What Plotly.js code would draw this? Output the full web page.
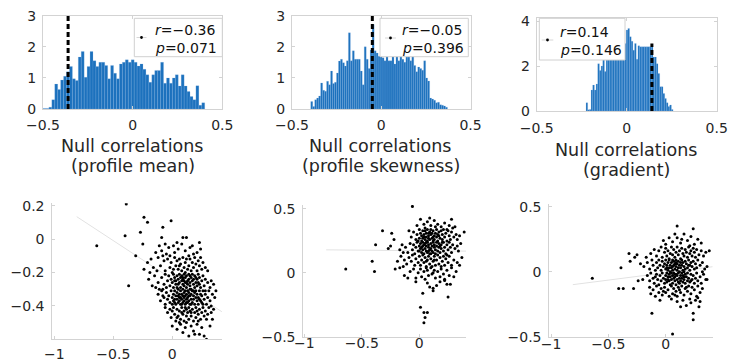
<!DOCTYPE html>
<html><head><meta charset="utf-8">
<script src="https://cdn.plot.ly/plotly-3.0.1.min.js"></script>
<style>html,body{margin:0;padding:0;background:#fff;}#chart{width:729px;height:363px;}</style>
</head><body><div id="chart"></div>
<script>
// ---------- DATA ----------
const panelTitles = ["(profile mean)", "(profile skewness)", "(gradient)"];
const xTitle = "Null correlations";
const rValues = [-0.36, -0.05, 0.14];
const pValues = ["0.071", "0.396", "0.146"];
const rLabels = ["\u22120.36", "\u22120.05", "0.14"];
const dashTop = 3;

// histogram bins (equal width) and density heights
const hist1Start = -0.5, hist1Width = 0.0164;
const hist1Heights = [0.02,0.02,0.06,0.3,0.8,0.63,0.93,1.05,1.2,1.37,0.97,0.92,1.67,1.85,1.02,1.37,1.85,1.55,1.37,1.5,1.5,1.4,0.97,1.4,1.15,0.97,1.45,1.5,1.58,1.5,1.58,1.5,1.38,1.45,1.28,1.1,0.86,1.1,1.24,1.24,1.5,0.83,1.0,0.83,1.0,1.1,0.74,1.1,0.74,0.56,0.4,0.3,0.75,0.12,0.2];
const hist2Start = -0.395, hist2Width = 0.0111;
const hist2Heights = [0.24,0.08,0.30,0.35,0.42,0.84,0.60,0.57,0.89,0.78,1.22,0.82,0.86,1.16,1.54,1.60,1.49,1.38,1.55,2.45,1.55,1.87,1.6,1.6,1.6,1.22,0.78,2.0,1.6,1.3,1.9,2.72,1.87,1.8,1.7,1.7,1.65,1.55,1.75,1.55,1.55,1.7,1.45,1.75,1.55,1.75,1.6,1.5,1.7,1.75,1.55,1.75,1.4,1.2,1.35,1.3,1.25,1.55,1.0,0.9,0.35,0.32,0.28,0.2,0.22,0.14,0.12,0.1,0.06];
const hist3Start = -0.226, hist3Width = 0.0093;
const hist3Heights = [0.37,0.05,0.07,0.93,1.15,0.93,1.2,2.1,1.8,2.0,2.4,1.75,2.6,2.9,3.1,2.7,3.3,2.9,3.4,3.0,3.5,3.2,4.05,3.0,3.6,3.67,3.3,3.1,2.7,3.0,2.3,2.9,2.85,2.85,2.85,2.85,2.85,2.85,2.85,2.85,2.4,2.4,2.1,1.67,1.08,1.08,0.78,0.56,0.37,0.2,0.27,0.07];

// fitted lines (end points)
const fit4X = [-0.81, 0.42], fit4Y = [0.134, -0.435];
const fit5X = [-0.81, 0.41], fit5Y = [0.18, 0.17];
const fit6X = [-0.81, 0.41], fit6Y = [-0.10, 0.038];

// scatter points [x, y]
const scatter4 = [
[-0.39,0.21],[-0.24,0.13],[-0.21,0.10],[-0.40,0.02],[-0.27,0.04],[-0.01,0.11],[-0.08,0.07],[-0.09,0.01],[0.09,0.01],[0.12,0.01],[-0.64,-0.04],[-0.25,-0.03],[0.23,-0.02],[-0.37,-0.28],[-0.31,-0.10],[-0.24,-0.18],
[-0.03,-0.05],[0.01,-0.04],[0.02,-0.08],[0.05,-0.06],[-0.05,-0.09],[-0.11,-0.04],[-0.09,-0.07],[0.08,-0.03],[0.11,-0.07],[0.15,-0.05],[0.18,-0.09],[0.21,-0.08],[-0.14,-0.08],[0.04,-0.02],[-0.06,-0.03],[0.17,-0.04],[0.24,-0.06],[-0.02,-0.10],
[-0.21,-0.14],[-0.18,-0.12],[-0.16,-0.17],[-0.13,-0.19],[-0.12,-0.11],[-0.10,-0.16],[-0.07,-0.13],[-0.06,-0.19],[-0.04,-0.12],[-0.02,-0.17],[-0.01,-0.14],[0.00,-0.20],[0.02,-0.11],[0.03,-0.16],[0.04,-0.13],[0.05,-0.18],[0.06,-0.12],[0.07,-0.15],[0.08,-0.19],[0.09,-0.11],[0.10,-0.17],[0.11,-0.14],[0.12,-0.12],[0.13,-0.18],[0.14,-0.16],[0.15,-0.12],[0.16,-0.19],[0.17,-0.14],[0.18,-0.17],[0.19,-0.11],[0.20,-0.15],[0.21,-0.19],[0.22,-0.13],[0.23,-0.16],[0.25,-0.18],[0.26,-0.14],[0.28,-0.17],[-0.19,-0.20],[-0.08,-0.10],[0.01,-0.18],[0.06,-0.16],[0.11,-0.20],[0.14,-0.10],[0.24,-0.11],[0.30,-0.19],
[-0.20,-0.24],[-0.17,-0.28],[-0.15,-0.22],[-0.12,-0.26],[-0.11,-0.30],[-0.09,-0.23],[-0.07,-0.27],[-0.06,-0.21],[-0.05,-0.29],[-0.04,-0.25],[-0.03,-0.22],[-0.02,-0.28],[-0.01,-0.24],[0.00,-0.26],[0.01,-0.21],[0.01,-0.29],[0.02,-0.23],[0.03,-0.27],[0.03,-0.25],[0.04,-0.22],[0.04,-0.29],[0.05,-0.24],[0.05,-0.27],[0.06,-0.21],[0.06,-0.26],[0.07,-0.23],[0.07,-0.29],[0.08,-0.25],[0.08,-0.22],[0.09,-0.27],[0.09,-0.24],[0.10,-0.21],[0.10,-0.28],[0.10,-0.25],[0.11,-0.23],[0.11,-0.26],[0.12,-0.29],[0.12,-0.22],[0.13,-0.25],[0.13,-0.27],[0.14,-0.21],[0.14,-0.24],[0.15,-0.28],[0.15,-0.26],[0.16,-0.23],[0.16,-0.30],[0.17,-0.25],[0.17,-0.21],[0.18,-0.27],[0.18,-0.24],[0.19,-0.29],[0.19,-0.22],[0.20,-0.26],[0.21,-0.24],[0.21,-0.28],[0.22,-0.21],[0.23,-0.27],[0.23,-0.23],[0.24,-0.29],[0.25,-0.25],[0.26,-0.22],[0.27,-0.28],[0.28,-0.24],[0.30,-0.26],[0.32,-0.29],[0.33,-0.25],[-0.14,-0.29],[-0.08,-0.30],[0.02,-0.25],[0.09,-0.23],[0.12,-0.26],[0.15,-0.22],[0.20,-0.23],[0.22,-0.26],[0.35,-0.27],
[-0.12,-0.33],[-0.10,-0.37],[-0.09,-0.31],[-0.07,-0.35],[-0.06,-0.39],[-0.05,-0.32],[-0.04,-0.36],[-0.03,-0.34],[-0.02,-0.38],[-0.01,-0.31],[0.00,-0.35],[0.00,-0.39],[0.01,-0.33],[0.01,-0.37],[0.02,-0.31],[0.02,-0.36],[0.03,-0.34],[0.03,-0.39],[0.04,-0.32],[0.04,-0.36],[0.05,-0.30],[0.05,-0.38],[0.05,-0.34],[0.06,-0.33],[0.06,-0.37],[0.07,-0.31],[0.07,-0.35],[0.07,-0.39],[0.08,-0.33],[0.08,-0.36],[0.09,-0.30],[0.09,-0.34],[0.09,-0.38],[0.10,-0.32],[0.10,-0.35],[0.10,-0.37],[0.11,-0.31],[0.11,-0.34],[0.11,-0.39],[0.12,-0.33],[0.12,-0.36],[0.13,-0.31],[0.13,-0.35],[0.13,-0.38],[0.14,-0.32],[0.14,-0.37],[0.15,-0.34],[0.15,-0.30],[0.15,-0.39],[0.16,-0.33],[0.16,-0.36],[0.17,-0.31],[0.17,-0.38],[0.18,-0.34],[0.18,-0.36],[0.19,-0.32],[0.19,-0.39],[0.20,-0.35],[0.20,-0.31],[0.21,-0.37],[0.21,-0.33],[0.22,-0.35],[0.22,-0.39],[0.23,-0.31],[0.23,-0.36],[0.24,-0.33],[0.25,-0.38],[0.25,-0.34],[0.26,-0.31],[0.27,-0.36],[0.28,-0.33],[0.29,-0.39],[0.30,-0.35],[0.31,-0.31],[0.32,-0.37],[0.34,-0.33],[0.36,-0.35],[0.37,-0.31],[0.33,-0.40],[-0.08,-0.34],[0.02,-0.38],[0.06,-0.35],[0.08,-0.39],[0.12,-0.38],[0.14,-0.34],[0.16,-0.39],[0.18,-0.31],[0.24,-0.37],[0.26,-0.39],[0.28,-0.31],
[-0.06,-0.41],[-0.04,-0.44],[-0.02,-0.42],[-0.01,-0.47],[0.00,-0.43],[0.01,-0.41],[0.02,-0.45],[0.03,-0.49],[0.04,-0.42],[0.05,-0.46],[0.06,-0.43],[0.07,-0.48],[0.08,-0.41],[0.09,-0.45],[0.10,-0.43],[0.10,-0.49],[0.11,-0.41],[0.12,-0.46],[0.13,-0.44],[0.14,-0.48],[0.14,-0.41],[0.15,-0.43],[0.16,-0.46],[0.17,-0.42],[0.18,-0.49],[0.19,-0.44],[0.20,-0.41],[0.20,-0.47],[0.21,-0.43],[0.22,-0.45],[0.23,-0.42],[0.24,-0.48],[0.25,-0.44],[0.26,-0.41],[0.27,-0.46],[0.28,-0.43],[0.30,-0.45],[0.31,-0.41],[0.33,-0.44],[0.34,-0.48],[0.35,-0.42],[0.04,-0.47],[0.08,-0.44],[0.12,-0.42],[0.16,-0.44],[0.22,-0.49],[0.29,-0.48],[0.06,-0.50],
[0.00,-0.52],[0.04,-0.54],[0.07,-0.51],[0.09,-0.56],[0.11,-0.53],[0.14,-0.58],[0.16,-0.52],[0.18,-0.55],[0.21,-0.51],[0.23,-0.57],[0.25,-0.53],[0.27,-0.58],[0.29,-0.60],[0.12,-0.50],[0.19,-0.57],[0.32,-0.52]
];
const scatter5 = [
[-0.06,0.52],[-0.64,0.03],[-0.39,0.01],[-0.41,0.09],[-0.38,0.22],[-0.32,0.33],[-0.24,0.31],[-0.27,0.19],[-0.25,0.21],[0.39,0.32],[-0.22,0.26],
[0.01,0.42],[0.04,0.38],[0.07,0.40],[0.10,0.37],[0.13,0.41],[0.16,0.38],[0.19,0.36],[0.22,0.39],[0.26,0.37],[0.28,0.42],[-0.02,0.37],[0.09,0.43],[0.14,0.36],[0.31,0.36],[0.05,0.35],
[-0.07,0.28],[-0.05,0.32],[-0.03,0.26],[-0.02,0.30],[0.00,0.34],[0.00,0.27],[0.01,0.31],[0.02,0.25],[0.02,0.29],[0.03,0.33],[0.03,0.27],[0.04,0.30],[0.05,0.26],[0.05,0.33],[0.06,0.28],[0.06,0.31],[0.07,0.25],[0.07,0.34],[0.08,0.29],[0.08,0.27],[0.09,0.32],[0.09,0.26],[0.10,0.30],[0.10,0.34],[0.11,0.27],[0.11,0.31],[0.12,0.25],[0.12,0.33],[0.13,0.29],[0.13,0.26],[0.14,0.31],[0.15,0.34],[0.15,0.28],[0.16,0.25],[0.17,0.32],[0.17,0.29],[0.18,0.27],[0.19,0.33],[0.20,0.30],[0.20,0.26],[0.21,0.34],[0.22,0.28],[0.23,0.31],[0.24,0.25],[0.25,0.33],[0.26,0.29],[0.27,0.26],[0.28,0.32],[0.30,0.28],[0.32,0.30],[0.33,0.26],[0.35,0.29],[-0.09,0.33],[0.04,0.28],[0.08,0.31],[0.12,0.28],[0.16,0.30],[0.24,0.34],[0.29,0.35],[-0.01,0.25],
[-0.12,0.20],[-0.10,0.16],[-0.08,0.23],[-0.06,0.18],[-0.05,0.22],[-0.04,0.15],[-0.03,0.20],[-0.02,0.24],[-0.01,0.17],[0.00,0.21],[0.01,0.19],[0.01,0.23],[0.02,0.16],[0.02,0.20],[0.03,0.24],[0.03,0.18],[0.04,0.22],[0.04,0.15],[0.05,0.19],[0.05,0.23],[0.06,0.17],[0.06,0.21],[0.07,0.24],[0.07,0.16],[0.08,0.20],[0.08,0.22],[0.09,0.18],[0.09,0.15],[0.10,0.23],[0.10,0.19],[0.11,0.21],[0.11,0.17],[0.12,0.24],[0.12,0.16],[0.13,0.20],[0.13,0.22],[0.14,0.18],[0.14,0.15],[0.15,0.21],[0.15,0.24],[0.16,0.17],[0.17,0.20],[0.17,0.23],[0.18,0.16],[0.19,0.19],[0.19,0.22],[0.20,0.24],[0.21,0.17],[0.22,0.20],[0.23,0.15],[0.24,0.22],[0.25,0.18],[0.26,0.24],[0.27,0.20],[0.28,0.16],[0.29,0.22],[0.31,0.19],[0.33,0.21],[0.34,0.17],[0.36,0.23],[-0.15,0.22],[-0.17,0.18],[-0.14,0.16],[0.00,0.17],[0.06,0.24],[0.10,0.15],[0.18,0.21],[0.21,0.24],[0.03,0.21],[0.08,0.17],
[-0.13,0.10],[-0.11,0.07],[-0.09,0.12],[-0.07,0.09],[-0.06,0.14],[-0.04,0.06],[-0.03,0.11],[-0.01,0.08],[0.00,0.13],[0.01,0.06],[0.02,0.10],[0.03,0.14],[0.04,0.08],[0.05,0.12],[0.06,0.05],[0.07,0.10],[0.08,0.13],[0.09,0.07],[0.10,0.11],[0.11,0.05],[0.12,0.09],[0.13,0.13],[0.14,0.06],[0.15,0.10],[0.16,0.14],[0.17,0.07],[0.18,0.12],[0.19,0.05],[0.20,0.09],[0.21,0.13],[0.22,0.06],[0.23,0.11],[0.25,0.08],[0.26,0.13],[0.28,0.06],[0.30,0.10],[0.33,0.08],[0.35,0.06],[0.37,0.12],[-0.16,0.13],[-0.19,0.09],[-0.14,0.05],[0.06,0.09],[0.13,0.10],[0.24,0.14],
[-0.21,0.03],[-0.17,0.04],[-0.13,-0.02],[-0.10,-0.04],[-0.08,0.01],[-0.05,0.03],[-0.03,-0.04],[-0.01,0.00],[0.01,0.03],[0.02,-0.03],[0.04,0.01],[0.05,-0.05],[0.07,0.02],[0.08,-0.02],[0.10,0.04],[0.11,-0.01],[0.13,0.02],[0.14,-0.04],[0.16,0.01],[0.18,-0.03],[0.19,0.03],[0.21,-0.01],[0.22,-0.05],[0.24,0.02],[0.26,-0.02],[0.28,0.04],[0.30,-0.03],[0.32,0.01],[0.06,0.04],[0.12,0.00],
[0.03,-0.16],[0.09,-0.11],[0.12,-0.12],[0.12,-0.14],[0.18,-0.07],[0.22,-0.06],[0.24,-0.09],[0.27,-0.09],[0.25,-0.19],[0.01,-0.27],[0.04,-0.31],[0.07,-0.31],[0.05,-0.35],[0.04,-0.39],[0.15,-0.10],[-0.03,-0.07],[0.07,-0.08]
];
const scatter6 = [
[0.10,0.35],[0.24,0.33],[0.38,0.16],[-0.32,0.14],[-0.25,0.13],[-0.39,0.03],[-0.64,-0.05],[-0.41,-0.13],[-0.37,-0.13],[-0.28,-0.13],[-0.12,-0.32],[0.06,-0.48],[0.24,-0.32],[0.24,-0.37],[0.29,-0.27],[-0.31,0.08],[-0.20,-0.06],[-0.24,-0.07],[-0.27,0.11],
[0.03,0.26],[0.10,0.26],[0.22,0.27],[0.06,0.23],[0.13,0.22],[0.16,0.29],[0.19,0.24],[0.25,0.21],[0.28,0.25],[0.00,0.21],[0.08,0.29],[-0.02,0.24],[0.14,0.25],[0.31,0.22],[0.21,0.20],
[-0.13,0.14],[-0.10,0.17],[-0.08,0.12],[-0.06,0.16],[-0.04,0.19],[-0.03,0.11],[-0.01,0.15],[0.00,0.18],[0.01,0.12],[0.02,0.16],[0.03,0.10],[0.04,0.14],[0.05,0.19],[0.06,0.13],[0.07,0.17],[0.08,0.11],[0.09,0.15],[0.10,0.19],[0.11,0.13],[0.12,0.16],[0.13,0.10],[0.14,0.18],[0.15,0.14],[0.16,0.12],[0.17,0.17],[0.18,0.15],[0.19,0.11],[0.20,0.19],[0.21,0.14],[0.22,0.16],[0.23,0.12],[0.24,0.18],[0.25,0.15],[0.26,0.11],[0.27,0.17],[0.29,0.13],[0.31,0.16],[0.33,0.12],[0.35,0.15],[-0.17,0.11],
[-0.19,0.04],[-0.16,0.07],[-0.14,0.02],[-0.12,0.09],[-0.11,0.05],[-0.09,0.01],[-0.08,0.07],[-0.07,0.03],[-0.06,0.09],[-0.05,0.05],[-0.04,0.01],[-0.03,0.08],[-0.02,0.04],[-0.01,0.06],[0.00,0.02],[0.00,0.09],[0.01,0.05],[0.02,0.01],[0.02,0.07],[0.03,0.03],[0.03,0.09],[0.04,0.05],[0.04,0.00],[0.05,0.07],[0.05,0.03],[0.06,0.09],[0.06,0.01],[0.07,0.05],[0.07,0.08],[0.08,0.02],[0.08,0.06],[0.09,0.04],[0.09,0.09],[0.10,0.01],[0.10,0.06],[0.11,0.03],[0.11,0.08],[0.12,0.05],[0.12,0.00],[0.13,0.07],[0.13,0.03],[0.14,0.09],[0.14,0.05],[0.15,0.01],[0.15,0.07],[0.16,0.04],[0.17,0.08],[0.17,0.02],[0.18,0.06],[0.19,0.03],[0.20,0.09],[0.20,0.05],[0.21,0.01],[0.22,0.07],[0.23,0.04],[0.24,0.08],[0.25,0.02],[0.26,0.06],[0.27,0.03],[0.28,0.09],[0.30,0.05],[0.32,0.07],[0.34,0.02],[0.36,0.04],[-0.22,0.06],[0.01,0.03],[0.06,0.04],[0.09,0.07],[0.16,0.00],[0.21,0.05],
[-0.16,-0.03],[-0.14,-0.07],[-0.13,-0.01],[-0.11,-0.05],[-0.10,-0.09],[-0.08,-0.02],[-0.07,-0.06],[-0.06,-0.10],[-0.05,-0.03],[-0.04,-0.07],[-0.03,-0.01],[-0.02,-0.05],[-0.01,-0.09],[0.00,-0.03],[0.00,-0.06],[0.01,-0.01],[0.01,-0.08],[0.02,-0.04],[0.03,-0.02],[0.03,-0.07],[0.04,-0.10],[0.04,-0.04],[0.05,-0.01],[0.05,-0.06],[0.06,-0.03],[0.06,-0.09],[0.07,-0.05],[0.07,-0.01],[0.08,-0.07],[0.08,-0.04],[0.09,-0.02],[0.09,-0.10],[0.10,-0.06],[0.10,-0.03],[0.11,-0.08],[0.11,-0.01],[0.12,-0.05],[0.12,-0.09],[0.13,-0.03],[0.13,-0.07],[0.14,-0.01],[0.14,-0.05],[0.15,-0.08],[0.15,-0.03],[0.16,-0.06],[0.17,-0.02],[0.17,-0.09],[0.18,-0.04],[0.19,-0.07],[0.19,-0.01],[0.20,-0.05],[0.21,-0.08],[0.22,-0.02],[0.23,-0.06],[0.24,-0.03],[0.25,-0.09],[0.26,-0.05],[0.27,-0.01],[0.28,-0.07],[0.30,-0.04],[0.31,-0.09],[0.33,-0.02],[0.35,-0.06],[0.36,-0.06],[0.32,0.00],[-0.09,-0.04],[0.02,-0.06],[0.08,-0.02],[0.16,-0.04],[0.22,-0.07],
[-0.14,-0.12],[-0.13,-0.17],[-0.11,-0.14],[-0.09,-0.19],[-0.08,-0.11],[-0.06,-0.16],[-0.04,-0.13],[-0.03,-0.18],[-0.01,-0.12],[0.00,-0.16],[0.02,-0.14],[0.03,-0.19],[0.05,-0.11],[0.06,-0.17],[0.07,-0.13],[0.09,-0.15],[0.10,-0.19],[0.11,-0.12],[0.13,-0.16],[0.14,-0.11],[0.16,-0.18],[0.17,-0.13],[0.19,-0.15],[0.20,-0.11],[0.22,-0.17],[0.23,-0.12],[0.25,-0.14],[0.27,-0.19],[0.28,-0.11],[0.30,-0.16],[0.32,-0.13],[0.08,-0.18],[0.12,-0.14],[-0.02,-0.15],[0.18,-0.12],
[0.15,-0.22],[0.18,-0.26],[0.21,-0.21],[0.22,-0.24],[0.05,-0.21],[0.10,-0.23],[0.26,-0.22],[0.28,-0.20],[-0.05,-0.22],[0.13,-0.27],[0.30,-0.23]
];

// ---------- RENDER ----------
const W = 729, H = 363;
const FONT = "DejaVu Sans, sans-serif";
const TXT = "#262626";
const AXC = "#d3d3d3";
const BAR = "#1c71bd";
const px = v => v / W, py = v => 1 - v / H;

function centers(start, width, n) { const c = []; for (let i = 0; i < n; i++) c.push(start + width * (i + 0.5)); return c; }

const hists = [
  {start: hist1Start, width: hist1Width, h: hist1Heights},
  {start: hist2Start, width: hist2Width, h: hist2Heights},
  {start: hist3Start, width: hist3Width, h: hist3Heights}
];
const scatters = [
  {pts: scatter4, fx: fit4X, fy: fit4Y},
  {pts: scatter5, fx: fit5X, fy: fit5Y},
  {pts: scatter6, fx: fit6X, fy: fit6Y}
];

const traces = [];
hists.forEach((hs, i) => {
  const ax = i === 0 ? '' : String(i + 1);
  traces.push({type: 'bar', x: centers(hs.start, hs.width, hs.h.length), y: hs.h, width: hs.width,
    marker: {color: BAR, line: {color: 'rgba(140,185,230,0.6)', width: 0.35}},
    xaxis: 'x' + ax, yaxis: 'y' + ax, showlegend: false, hoverinfo: 'skip'});
  traces.push({type: 'scatter', mode: 'lines', x: [rValues[i], rValues[i]], y: [0, dashTop],
    line: {color: '#000', width: 3, dash: '5px,3px'},
    xaxis: 'x' + ax, yaxis: 'y' + ax, showlegend: false, hoverinfo: 'skip'});
});
scatters.forEach((sc, i) => {
  const ax = String(i + 4);
  traces.push({type: 'scatter', mode: 'lines', x: sc.fx, y: sc.fy, line: {color: '#e2e2e2', width: 1},
    xaxis: 'x' + ax, yaxis: 'y' + ax, showlegend: false, hoverinfo: 'skip'});
  traces.push({type: 'scatter', mode: 'markers', x: sc.pts.map(p => p[0]), y: sc.pts.map(p => p[1]),
    marker: {color: '#000', size: 3}, xaxis: 'x' + ax, yaxis: 'y' + ax, showlegend: false, hoverinfo: 'skip'});
});

function axisBase(extra) {
  return Object.assign({showgrid: false, zeroline: false, showline: true, linecolor: AXC, linewidth: 1,
    ticks: 'inside', ticklen: 3, tickcolor: AXC, tickwidth: 1,
    tickfont: {family: FONT, size: 14, color: TXT}, fixedrange: true}, extra);
}

// panel geometry (pixels)
const topPanels = [
  {x0: 43, x1: 222.3, y0: 15.7, y1: 109, yr: [0, 3], yt: [0, 1, 2, 3], xso: 3},
  {x0: 292, x1: 470.5, y0: 15.7, y1: 109, yr: [0, 3], yt: [0, 1, 2, 3], xso: 3},
  {x0: 536.7, x1: 716.7, y0: 18.3, y1: 111, yr: [0, 4.12], yt: [0, 2, 4], xso: 4}
];
const botPanels = [
  {x0: 52.3, x1: 222.3, y0: 203.3, y1: 339.3, xr: [-1.017, 0.424], yr: [-0.6, 0.214], yt: [-0.4, -0.2, 0, 0.2], xso: 2},
  {x0: 303.3, x1: 466, y0: 205, y1: 336.7, xr: [-1.009, 0.406], yr: [-0.5, 0.531], yt: [-0.5, 0, 0.5], xso: -7},
  {x0: 549.3, x1: 712.7, y0: 204, y1: 336.7, xr: [-1.015, 0.41], yr: [-0.5, 0.52], yt: [-0.5, 0, 0.5], xso: -6}
];

const layout = {width: W, height: H, margin: {l: 0, r: 0, t: 0, b: 0}, paper_bgcolor: '#fff', plot_bgcolor: '#fff',
  bargap: 0, showlegend: false, font: {family: FONT, color: TXT}, shapes: [], annotations: []};

topPanels.forEach((p, i) => {
  const s = i === 0 ? '' : String(i + 1);
  layout['xaxis' + s] = axisBase({domain: [px(p.x0), px(p.x1)], range: [-0.5, 0.5], tickvals: [-0.5, 0, 0.5],
    mirror: 'ticks', anchor: 'y' + s, ticklabelstandoff: p.xso});
  layout['yaxis' + s] = axisBase({domain: [py(p.y1), py(p.y0)], range: p.yr, tickvals: p.yt,
    mirror: 'ticks', anchor: 'x' + s, ticklabelstandoff: 3});
});
botPanels.forEach((p, i) => {
  const s = String(i + 4);
  layout['xaxis' + s] = axisBase({domain: [px(p.x0), px(p.x1)], range: p.xr, tickvals: [-1, -0.5, 0],
    anchor: 'y' + s, ticklabelstandoff: p.xso});
  layout['yaxis' + s] = axisBase({domain: [py(p.y1), py(p.y0)], range: p.yr, tickvals: p.yt,
    anchor: 'x' + s, ticklabelstandoff: 4});
});

// legend boxes (pixels) and axis titles
const legendBoxes = [
  {x0: 134.3, x1: 222.3, y0: 18.3, y1: 56.7, sx0: 136.5, sx1: 146.5, sy: 37.5, tx: 153, ty1: 30, ty2: 48},
  {x0: 380, x1: 468.3, y0: 18.3, y1: 56.7, sx0: 385, sx1: 396, sy: 38, tx: 400, ty1: 30, ty2: 48},
  {x0: 539.3, x1: 625, y0: 18.3, y1: 60, sx0: 541.7, sx1: 553.3, sy: 40, tx: 558, ty1: 31.5, ty2: 50}
];
const titlePos = [{x: 132.5, y1: 145.7, y2: 165.7}, {x: 381, y1: 145.7, y2: 165.7}, {x: 626.7, y1: 150, y2: 170}];

legendBoxes.forEach((b, i) => {
  layout.shapes.push({type: 'rect', xref: 'paper', yref: 'paper', x0: px(b.x0), x1: px(b.x1), y0: py(b.y1), y1: py(b.y0),
    fillcolor: '#fff', line: {color: '#d0d0d0', width: 1}, layer: 'above'});
  layout.shapes.push({type: 'line', xref: 'paper', yref: 'paper', x0: px(b.sx0), x1: px(b.sx1), y0: py(b.sy), y1: py(b.sy),
    line: {color: '#d6d6d6', width: 1}, layer: 'above'});
  const cx = (b.sx0 + b.sx1) / 2;
  layout.shapes.push({type: 'circle', xref: 'paper', yref: 'paper', x0: px(cx - 1.4), x1: px(cx + 1.4), y0: py(b.sy + 1.4), y1: py(b.sy - 1.4),
    fillcolor: '#000', line: {color: '#000', width: 0}, layer: 'above'});
  layout.annotations.push({xref: 'paper', yref: 'paper', x: px(b.tx), y: py(b.ty1), xanchor: 'left', yanchor: 'middle', showarrow: false,
    text: '<i>r</i>=' + rLabels[i], font: {family: FONT, size: 14, color: '#111'}});
  layout.annotations.push({xref: 'paper', yref: 'paper', x: px(b.tx), y: py(b.ty2), xanchor: 'left', yanchor: 'middle', showarrow: false,
    text: '<i>p</i>=' + pValues[i], font: {family: FONT, size: 14, color: '#111'}});
});
titlePos.forEach((t, i) => {
  layout.annotations.push({xref: 'paper', yref: 'paper', x: px(t.x), y: py(t.y1), xanchor: 'center', yanchor: 'middle', showarrow: false,
    text: xTitle, font: {family: FONT, size: 17.5, color: TXT}});
  layout.annotations.push({xref: 'paper', yref: 'paper', x: px(t.x), y: py(t.y2), xanchor: 'center', yanchor: 'middle', showarrow: false,
    text: panelTitles[i], font: {family: FONT, size: 17.5, color: TXT}});
});

Plotly.newPlot('chart', traces, layout, {staticPlot: true, displayModeBar: false});
</script></body></html>
